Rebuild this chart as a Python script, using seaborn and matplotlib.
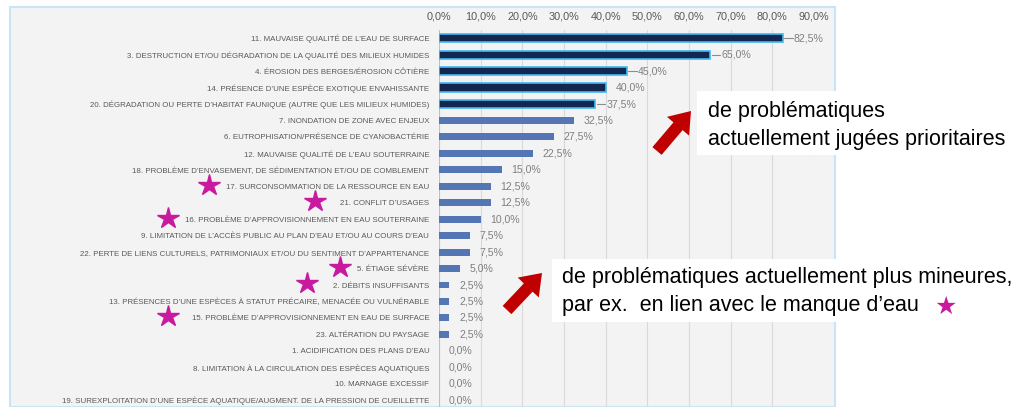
import numpy as np
import pandas as pd
import matplotlib
matplotlib.use("Agg")
import matplotlib.pyplot as plt
import matplotlib.transforms as mtransforms
from matplotlib.patches import Rectangle, FancyArrow
import seaborn as sns

# data
labels = [
    "11. Mauvaise qualité de l’eau de surface",
    "3. Destruction et/ou dégradation de la qualité des milieux humides",
    "4. Érosion des berges/érosion côtière",
    "14. Présence d’une espèce exotique envahissante",
    "20. Dégradation ou perte d’habitat faunique (autre que les milieux humides)",
    "7. Inondation de zone avec enjeux",
    "6. Eutrophisation/présence de cyanobactérie",
    "12. Mauvaise qualité de l’eau souterraine",
    "18. Problème d’envasement, de sédimentation et/ou de comblement",
    "17. Surconsommation de la ressource en eau",
    "21. Conflit d’usages",
    "16. Problème d’approvisionnement en eau souterraine",
    "9. Limitation de l’accès public au plan d’eau et/ou au cours d’eau",
    "22. Perte de liens culturels, patrimoniaux et/ou du sentiment d’appartenance",
    "5. Étiage sévère",
    "2. Débits insuffisants",
    "13. Présences d’une espèces à statut précaire, menacée ou vulnérable",
    "15. Problème d’approvisionnement en eau de surface",
    "23. Altération du paysage",
    "1. Acidification des plans d’eau",
    "8. Limitation à la circulation des espèces aquatiques",
    "10. Marnage excessif",
    "19. Surexploitation d’une espèce aquatique/augment. de la pression de cueillette",
]
values = [82.5, 65.0, 45.0, 40.0, 37.5, 32.5, 27.5, 22.5, 15.0, 12.5, 12.5, 10.0,
          7.5, 7.5, 5.0, 2.5, 2.5, 2.5, 2.5, 0.0, 0.0, 0.0, 0.0]
priority = ["prioritaire"] * 5 + ["autre"] * 18
leader = [True, True, True, False, True] + [False] * 18
xticks = [0, 10, 20, 30, 40, 50, 60, 70, 80, 90]

# rows flagged with a star (lack of water) and star x position (figure px)
star_rows = ["17.", "21.", "16.", "5.", "2.", "15."]
star_px = [209, 315, 168, 340, 307, 168]

note_top = ["de problématiques", "actuellement jugées prioritaires"]
note_bottom = ["de problématiques actuellement plus mineures,",
               "par ex.  en lien avec le manque d’eau"]

df = pd.DataFrame({"label": labels, "value": values, "group": priority})

sns.set_style("white")
plt.rcParams["font.family"] = ["Liberation Sans", "DejaVu Sans"]

W, H = 1020, 407
fig = plt.figure(figsize=(W / 100, H / 100), dpi=100)
fig.patch.set_facecolor("white")

# light grey panel behind the chart
fig.patches.append(Rectangle((10 / W, 0), 825 / W, (H - 7) / H, transform=fig.transFigure,
                             facecolor="#f3f3f3", edgecolor="#c8e4f5", lw=1.5, zorder=-2))

ax = fig.add_axes([439 / W, -8 / H, (814 - 439) / W, (H - 30 + 8) / H])
ax.set_facecolor("none")

sns.barplot(data=df, y="label", x="value", hue="group", dodge=False, orient="h",
            palette={"prioritaire": "#0b2458", "autre": "#4472c4"},
            width=0.5, legend=False, ax=ax, zorder=3)
for bar in ax.patches:
    if bar.get_facecolor()[2] < 0.5:
        bar.set_edgecolor("#3fbaf2")
        bar.set_linewidth(1.2)
    else:
        bar.set_linewidth(0)
        y0, h = bar.get_y(), bar.get_height()
        bar.set_y(y0 + h * 0.08)
        bar.set_height(h * 0.84)

ax.set_xlim(0, 90)
ax.set_ylim(len(labels) - 0.1, -0.5)
ax.set_xticks(xticks)
ax.set_xticklabels([f"{t:.1f}%".replace(".", ",") for t in xticks])
ax.xaxis.tick_top()
ax.tick_params(axis="x", length=0, pad=6, labelsize=7.8, labelcolor="#595959")
ax.set_yticks(range(len(labels)))
ax.set_yticklabels([l.upper() for l in labels])
ax.tick_params(axis="y", length=0, pad=7, labelsize=5.7, labelcolor="#595959")
ax.set_xlabel("")
ax.set_ylabel("")
for s in ax.spines.values():
    s.set_visible(False)
ax.grid(axis="x", color="#d9d9d9", lw=0.8, zorder=0)
ax.axvline(0, color="#bfbfbf", lw=0.8, zorder=1)

for i, (v, lead) in enumerate(zip(values, leader)):
    txt = f"{v:.1f}%".replace(".", ",")
    if lead:
        ax.plot([v + 0.4, v + 2.4], [i, i], color="#8c8c8c", lw=0.8, zorder=4)
        ax.text(v + 2.7, i, txt, va="center", ha="left", fontsize=7.6, color="#7f7f7f")
    else:
        ax.text(v + 2.3, i, txt, va="center", ha="left", fontsize=7.6, color="#7f7f7f")

# magenta stars next to water-shortage items
blend = mtransforms.blended_transform_factory(fig.transFigure, ax.transData)
for key, px_x in zip(star_rows, star_px):
    row = [i for i, l in enumerate(labels) if l.startswith(key)][0]
    ax.plot(px_x / W, row - 0.1, marker="*", ms=16, color="#c81a9e", transform=blend,
            clip_on=False, zorder=6)


def px(x, y):
    return x / 100, (H - y) / 100


# note boxes
for (x0, y0, x1, y1) in [(697, 91, 1012, 155), (552, 259, 1020, 322)]:
    fig.patches.append(Rectangle(px(x0, y1), (x1 - x0) / 100, (y1 - y0) / 100,
                                 transform=fig.dpi_scale_trans, facecolor="white",
                                 edgecolor="none", zorder=5))
for k, line in enumerate(note_top):
    fig.text(708 / W, 1 - (112 + 27 * k) / H, line, fontsize=15.5, va="center",
             ha="left", color="black", zorder=6)
for k, line in enumerate(note_bottom):
    fig.text(562 / W, 1 - (278 + 27 * k) / H, line, fontsize=15.5, va="center",
             ha="left", color="black", zorder=6)
fig.text(934 / W, 1 - 307 / H, "★", fontsize=18, va="center", ha="left",
         color="#c81a9e", family="DejaVu Sans", zorder=7)

# red block arrows
for (tx, ty), (hx, hy) in [((657, 151), (691, 111)), ((507, 310), (542, 273))]:
    x0, y0 = px(tx, ty)
    x1, y1 = px(hx, hy)
    fig.patches.append(FancyArrow(x0, y0, x1 - x0, y1 - y0, width=0.12, head_width=0.29,
                                  head_length=0.2, length_includes_head=True,
                                  transform=fig.dpi_scale_trans, color="#c00000",
                                  lw=0, zorder=6))

fig.savefig("out.png", dpi=100)
